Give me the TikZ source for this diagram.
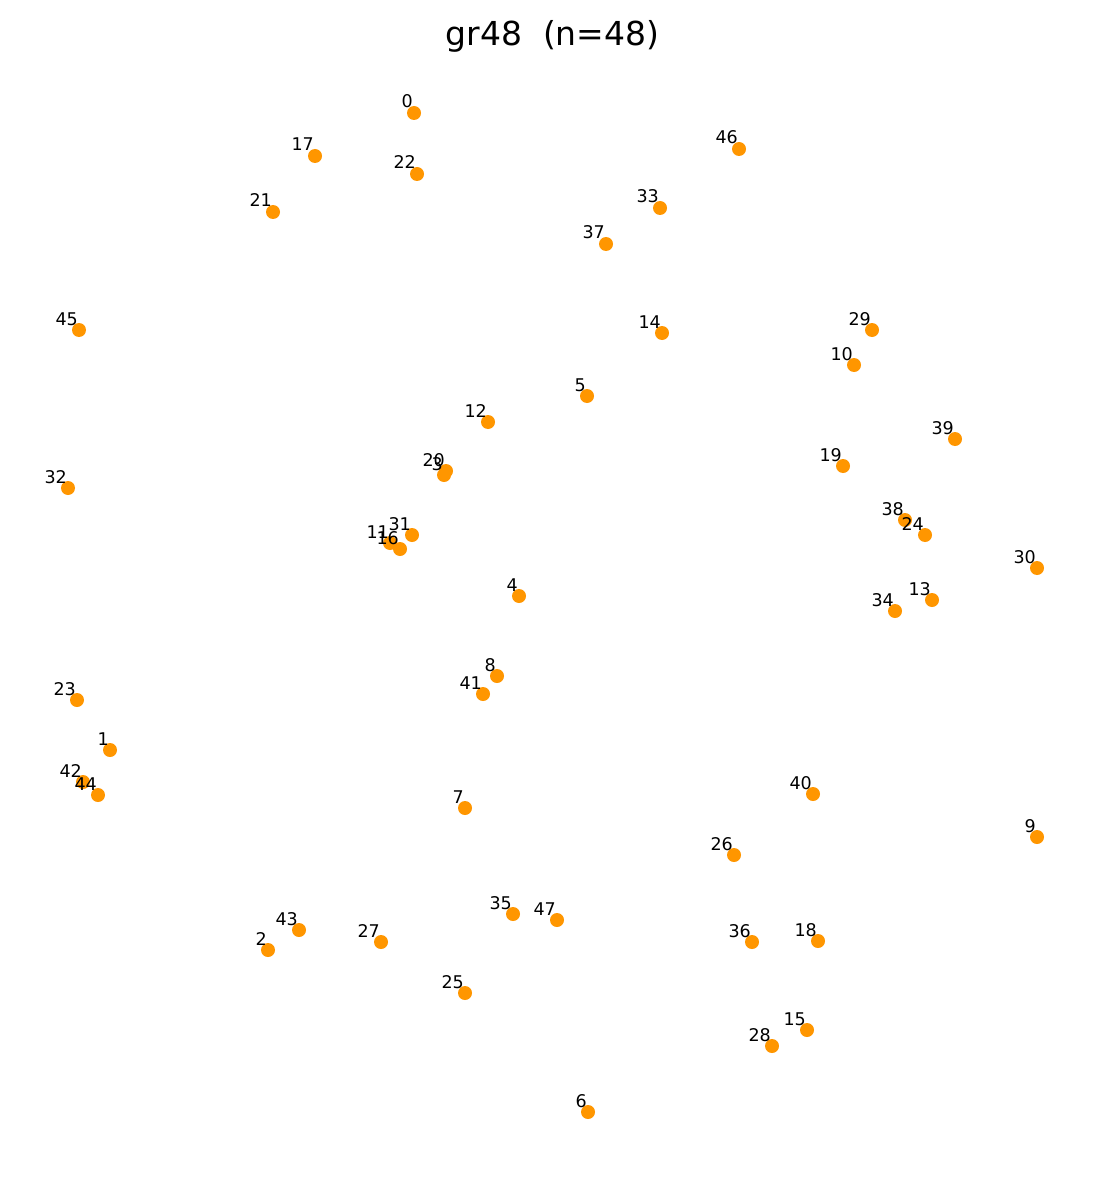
\documentclass[tikz,border=0pt]{standalone}
\usepackage{fontspec}
\setmainfont{DejaVu Sans}
\definecolor{dotc}{RGB}{255,150,0}
\begin{document}
\begin{tikzpicture}[x=1pt,y=-1pt,
  dot/.style={circle,fill=dotc,draw=none,inner sep=0pt,minimum size=14pt},
  lab/.style={inner sep=0pt,anchor=base east,font=\fontsize{17.5}{20}\selectfont}]
\useasboundingbox (0,0) rectangle (1105,1182);
\node[font=\fontsize{33}{38}\selectfont,anchor=base,inner sep=0pt] (title) at (552.5,46) {gr48\ \ (n=48)};
\foreach \i/\x/\y in {0/414/113,17/315/156,22/417/174,21/273/212,46/739/149,33/660/208,37/606/244,45/79/330,14/662/333,29/872/330,10/854/365,5/587/396,12/488/422,39/955/439,20/446/471,3/444/475,19/843/466,32/68/488,38/905/520,24/925/535,31/412/535,11/390/543,16/400/549,30/1037/568,4/519/596,13/932/600,34/895/611,8/497/676,41/483/694,23/77/700,1/110/750,42/83/782,44/98/795,40/813/794,7/465/808,9/1037/837,26/734/855,35/513/914,47/557/920,43/299/930,27/381/942,36/752/942,18/818/941,2/268/950,25/465/993,15/807/1030,28/772/1046,6/588/1112}
  {\node[dot] (n\i) at (\x,\y) {};}
\foreach \i in {0,17,22,21,46,33,37,45,14,29,10,5,12,39,20,3,19,32,38,24,31,11,16,30,4,13,34,8,41,23,1,42,44,40,7,9,26,35,47,43,27,36,18,2,25,15,28,6}
  {\path (n\i.center) ++(-1,-5) node[lab] (l\i) {\i};}
\end{tikzpicture}
\end{document}
